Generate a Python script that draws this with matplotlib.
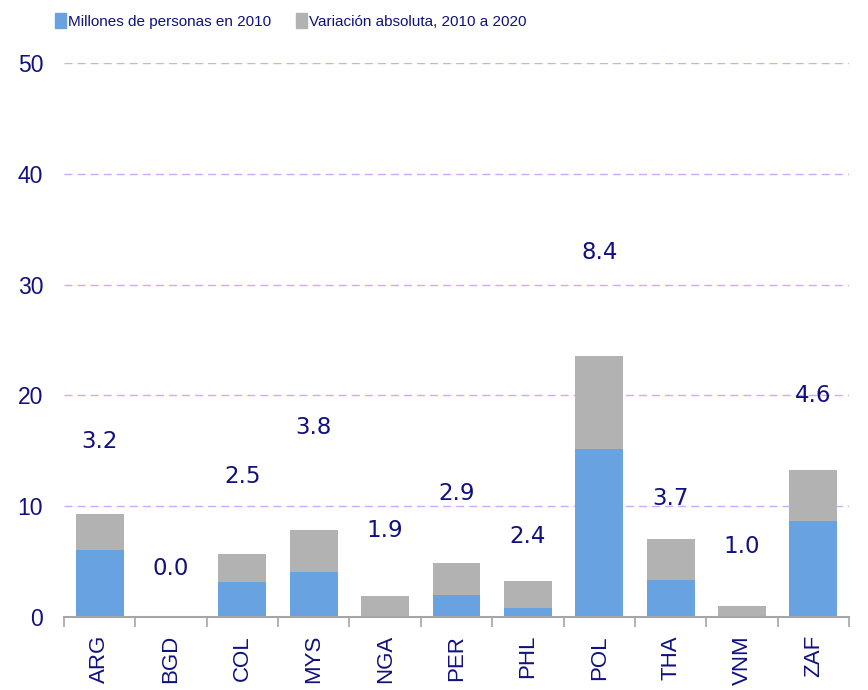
import matplotlib
matplotlib.use("Agg")
import matplotlib.pyplot as plt
import numpy as np
from matplotlib.patches import Patch

# data
countries = ["ARG", "BGD", "COL", "MYS", "NGA", "PER", "PHL", "POL", "THA", "VNM", "ZAF"]
millones_2010 = [6.05, 0.0, 3.16, 4.06, 0.0, 1.99, 0.84, 15.16, 3.34, 0.0, 8.66]
variacion = [3.2, 0.0, 2.5, 3.8, 1.9, 2.9, 2.4, 8.4, 3.7, 1.0, 4.6]
# heights at which the variation labels sit (hidden series in the original)
label_height = [15.8, 4.4, 12.66, 17.06, 7.85, 11.1, 7.25, 32.85, 10.65, 6.4, 19.95]

navy = "#10107f"
blue = "#69a2e0"
gray = "#b2b2b2"
grid_col = "#cfa8ff"
axis_col = "#a6a6a6"

plt.rcParams["font.family"] = ["Liberation Sans", "DejaVu Sans"]

fig = plt.figure(figsize=(8.68, 6.9), dpi=100)
ax = fig.add_axes([0.0737, 0.1058, 0.9045, 0.803])

x = np.arange(len(countries))
ax.bar(x, millones_2010, width=0.67, color=blue, zorder=2)
ax.bar(x, variacion, bottom=millones_2010, width=0.67, color=gray, zorder=2)

for xi, v, h in zip(x, variacion, label_height):
    ax.text(xi, h, f"{v:.1f}", ha="center", va="center", color=navy,
            fontsize=16.5, family="DejaVu Sans", zorder=3)

ax.set_xlim(-0.5, 10.5)
ax.set_ylim(0, 50)
ax.set_yticks(range(0, 51, 10))
ax.set_axisbelow(True)
ax.yaxis.grid(True, linestyle=(0, (5.8, 3.6)), color=grid_col, lw=1)
ax.get_ygridlines()[0].set_visible(False)

for s in ["top", "right", "left"]:
    ax.spines[s].set_visible(False)
ax.spines["bottom"].set_color(axis_col)
ax.spines["bottom"].set_linewidth(1.5)

ax.set_xticks(x, countries, rotation=90)
ax.set_xticks(np.arange(-0.5, 11, 1), minor=True)
ax.tick_params(axis="x", which="major", length=0, pad=13, labelsize=16, labelcolor=navy)
ax.tick_params(axis="x", which="minor", length=7, width=1.2, color=axis_col)
ax.tick_params(axis="y", length=0, pad=15, labelsize=16.5, labelcolor=navy)

handles = [Patch(color=blue, label="Millones de personas en 2010"),
           Patch(color=gray, label="Variación absoluta, 2010 a 2020")]
fig.legend(handles=handles, loc="center left", bbox_to_anchor=(0.063, 0.97), ncol=2,
           frameon=False, fontsize=11, handlelength=0.72, handleheight=1.2,
           handletextpad=0.15, columnspacing=1.6, labelcolor=navy,
           borderpad=0, borderaxespad=0)

fig.savefig("out.png", dpi=100)
